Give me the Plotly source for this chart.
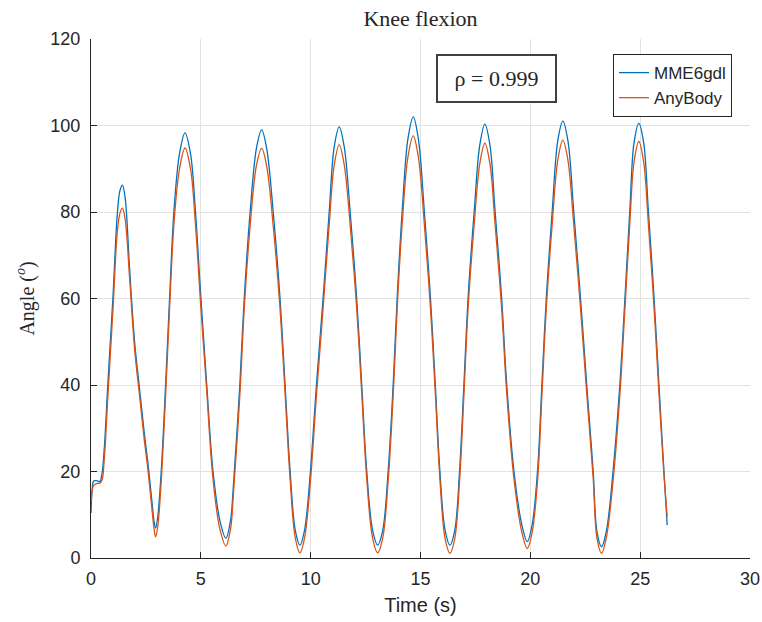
import plotly.graph_objects as go

# Time samples (s)
time_s = [
    0.0, 0.05, 0.12, 0.25, 0.4, 0.5, 0.6, 0.77, 1.0, 1.2, 1.32, 1.43, 1.55, 1.76, 1.99,
    2.2, 2.41, 2.59, 2.78, 2.87, 2.94, 3.04, 3.2, 3.4, 3.58, 3.78, 4.03, 4.28, 4.53,
    4.75, 5.0, 5.27, 5.55, 5.87, 6.14, 6.35, 6.48, 6.78, 6.98, 7.24, 7.54, 7.77, 8.0,
    8.3, 8.6, 8.83, 9.06, 9.3, 9.51, 9.72, 9.97, 10.27, 10.57, 10.85, 11.07, 11.3,
    11.53, 11.79, 12.09, 12.32, 12.55, 12.82, 13.05, 13.28, 13.53, 13.76, 13.94,
    14.17, 14.43, 14.67, 14.9, 15.17, 15.45, 15.67, 15.88, 16.12, 16.34, 16.56,
    16.78, 16.98, 17.17, 17.45, 17.7, 17.93, 18.16, 18.39, 18.69, 18.92, 19.25,
    19.62, 19.86, 20.08, 20.33, 20.53, 20.73, 21.0, 21.25, 21.48, 21.71, 21.97,
    22.28, 22.56, 22.86, 23.03, 23.24, 23.46, 23.77, 24.08, 24.31, 24.53, 24.72,
    24.94, 25.16, 25.37, 25.63, 25.85, 26.08, 26.23,
]

# MME6gdl knee flexion angle (deg)
mme6gdl = [
    10.4, 15.5, 17.8, 17.9, 17.7, 19.5, 25.0, 40.5, 60.4, 79.7, 85.0, 86.2, 83.5, 66.6, 49.7,
    39.6, 29.6, 22.0, 12.7, 8.5, 6.9, 9.6, 20.3, 40.5, 60.4, 80.5, 93.5, 98.3, 93.5,
    80.5, 60.4, 40.0, 20.3, 8.6, 4.6, 8.6, 16.5, 40.5, 60.4, 79.7, 95.0, 99.0, 94.6,
    79.7, 60.4, 40.5, 20.5, 6.4, 3.0, 6.4, 18.8, 40.5, 60.4, 80.5, 95.0, 99.7,
    95.0, 80.5, 60.4, 40.5, 20.3, 6.4, 3.0, 6.4, 20.3, 40.5, 60.4,
    80.5, 97.0, 102.0, 97.0, 80.5, 60.4, 40.5, 20.3, 6.4, 3.0, 6.4,
    20.3, 40.5, 60.4, 80.5, 95.5, 100.3, 95.5, 80.5, 60.4, 40.5, 20.3,
    7.5, 3.8, 7.6, 20.3, 40.5, 60.4, 80.5, 96.5, 101.0, 96.5, 80.5,
    60.4, 40.5, 20.3, 6.2, 2.6, 6.2, 20.3, 40.5, 60.4, 80.5, 96.0,
    100.5, 96.0, 80.5, 60.4, 40.5, 20.3, 7.6,
]

# AnyBody knee flexion angle (deg)
anybody = [
    13.0, 15.5, 16.8, 17.2, 17.3, 18.0, 22.5, 37.5, 57.5, 75.5, 79.8, 80.9, 78.5, 64.5, 48.0,
    38.0, 28.0, 20.5, 11.0, 6.8, 4.9, 7.3, 18.0, 38.0, 58.0, 77.5, 90.0, 94.8, 90.0,
    77.5, 58.0, 38.5, 18.5, 6.6, 2.8, 6.6, 14.5, 38.0, 58.0, 76.5, 91.0, 94.7, 90.5,
    76.5, 58.0, 38.5, 18.5, 4.6, 1.2, 4.6, 16.5, 38.0, 58.0, 77.5, 90.8, 95.5,
    90.8, 77.5, 58.0, 38.5, 18.5, 4.6, 1.2, 4.6, 18.0, 38.0, 58.0,
    77.5, 92.8, 97.6, 92.8, 77.5, 58.0, 38.5, 18.5, 4.5, 1.1, 4.5,
    18.0, 38.0, 58.0, 77.5, 91.2, 95.9, 91.2, 77.5, 58.0, 38.5, 18.5,
    5.8, 2.2, 5.8, 18.0, 38.0, 58.0, 77.5, 92.0, 96.6, 92.0, 77.5,
    58.0, 38.5, 18.5, 4.7, 1.1, 4.7, 18.0, 38.0, 58.0, 77.5, 91.5,
    96.3, 91.5, 77.5, 58.0, 38.5, 19.5, 9.6,
]

series_names = ["MME6gdl", "AnyBody"]
series_colors = ["#0072BD", "#D95319"]

x_ticks = [0, 5, 10, 15, 20, 25, 30]
y_ticks = [0, 20, 40, 60, 80, 100, 120]

rho_text = "ρ = 0.999"

fig = go.Figure()
for name, vals, col in zip(series_names, [mme6gdl, anybody], series_colors):
    fig.add_trace(go.Scatter(
        x=time_s, y=vals, name=name, mode="lines",
        line=dict(color=col, width=1.3, shape="spline", smoothing=1.0),
    ))

axis_common = dict(
    showline=True, linecolor="#262626", linewidth=1,
    ticks="inside", ticklen=6, tickcolor="#262626", tickwidth=1,
    showgrid=True, gridcolor="#e2e2e2", gridwidth=1, zeroline=False,
    tickfont=dict(family="Liberation Sans, Arial", size=18, color="#262626"),
)

fig.update_xaxes(
    range=[0, 30], tickvals=x_ticks, ticklabelstandoff=4,
    title=dict(text="Time (s)", font=dict(family="Liberation Sans, Arial", size=20, color="#262626"), standoff=10),
    **axis_common,
)
fig.update_yaxes(
    range=[0, 120], tickvals=y_ticks, ticklabelstandoff=6,
    title=dict(text="Angle (<sup><i>o</i></sup>)", font=dict(family="Liberation Serif, Times New Roman", size=20, color="#262626"), standoff=10),
    **axis_common,
)

fig.add_annotation(
    x=0.616, y=0.923, xref="paper", yref="paper", xanchor="center", yanchor="middle",
    text=rho_text, showarrow=False,
    font=dict(family="Liberation Serif, Times New Roman", size=22, color="#262626"),
    bgcolor="white", bordercolor="#404040", borderwidth=2, borderpad=2,
    width=113, height=41,
)

fig.update_layout(
    width=762, height=622,
    margin=dict(l=91, r=12, t=39, b=64, autoexpand=False),
    paper_bgcolor="white", plot_bgcolor="white",
    title=dict(text="Knee flexion", x=0.5, xref="paper", xanchor="center",
               y=1 - 18 / 622, yref="container", yanchor="middle",
               font=dict(family="Liberation Serif, Times New Roman", size=22, color="#262626")),
    legend=dict(
        x=0.9727, y=0.971, xanchor="right", yanchor="top",
        bgcolor="white", bordercolor="#262626", borderwidth=1,
        font=dict(family="Liberation Sans, Arial", size=17, color="#262626"),
        tracegroupgap=0,
    ),
    showlegend=True,
)

fig.write_html("out.html")
